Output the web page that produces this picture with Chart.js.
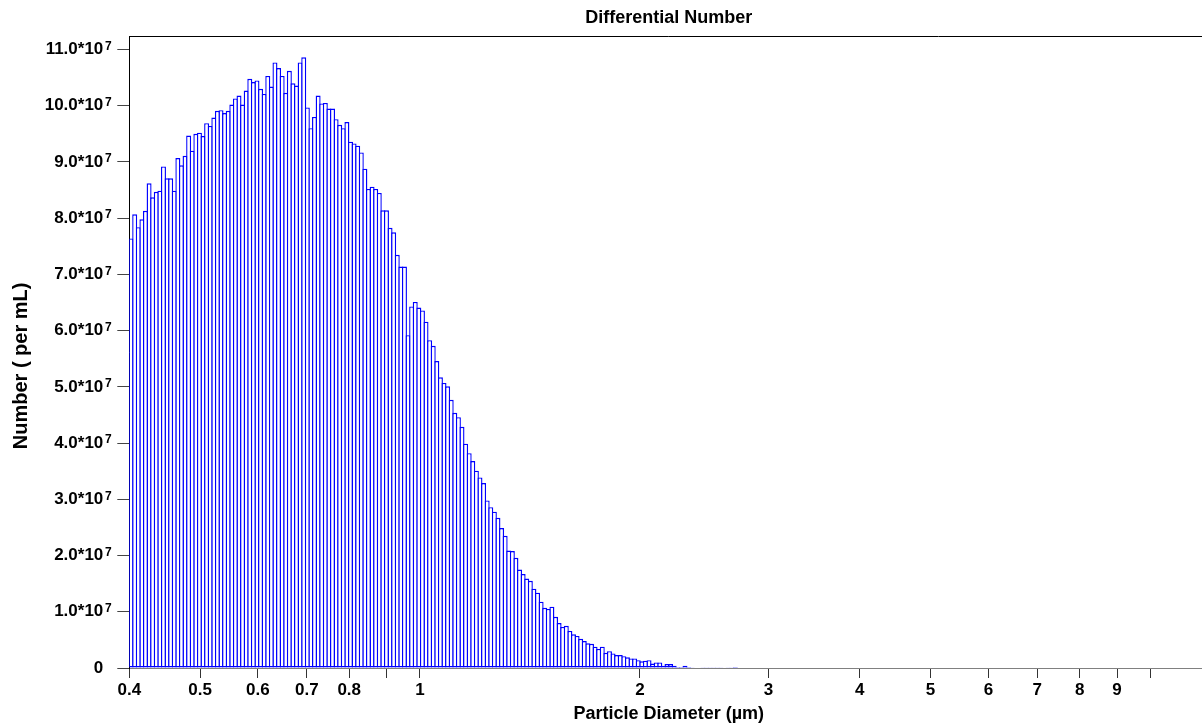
<!DOCTYPE html>
<html>
<head>
<meta charset="utf-8">
<script src="https://cdn.jsdelivr.net/npm/chart.js@4.4.0/dist/chart.umd.min.js"></script>
<style>
html, body { margin: 0; padding: 0; background: #fff; overflow: hidden; }
#wrap { width: 1210px; height: 724px; }
</style>
</head>
<body>
<div id="wrap"><canvas id="diff"></canvas></div>
<script>
// channel layout: 300 log spaced bins from 0.4 to 12 um
const dMin = 0.4, dMax = 12, nBins = 300

// differential number per channel, in 10^7 per mL, first channel at 0.4 um
const counts = [
  7.64, 8.07, 7.84, 7.98, 8.13, 8.62, 8.37, 8.47, 8.49, 8.92, 8.71, 8.71, 8.49, 9.07, 8.94, 9.11,
  9.47, 9.20, 9.50, 9.52, 9.46, 9.69, 9.64, 9.79, 9.91, 9.92, 9.87, 9.91, 10.02, 10.13, 10.18, 10.02,
  10.27, 10.48, 10.42, 10.45, 10.30, 10.21, 10.53, 10.34, 10.77, 10.67, 10.53, 10.23, 10.62, 10.40, 10.36, 10.77,
  10.86, 9.97, 9.60, 9.80, 10.18,
  10.04, 10.05, 9.95, 9.95, 9.76, 9.66, 9.60, 9.71, 9.36, 9.33, 9.29, 9.17, 8.88, 8.52, 8.56, 8.52,
  8.45, 8.14, 8.14, 7.83, 7.75, 7.35, 7.14, 7.14,
  5.92, 6.43, 6.51, 6.41, 6.36, 6.16, 5.83, 5.73, 5.46, 5.17, 5.07, 5.01, 4.77, 4.54, 4.46, 4.29,
  3.99, 3.82, 3.68, 3.51, 3.39, 3.29, 2.98, 2.86, 2.78, 2.67,
  2.49, 2.35, 2.09, 2.08, 1.96, 1.75, 1.67, 1.59, 1.55, 1.41, 1.34, 1.18, 1.07, 1.05, 1.09, 0.91,
  0.80, 0.73, 0.75, 0.66, 0.60, 0.57, 0.52, 0.48, 0.44, 0.43, 0.38, 0.34, 0.38, 0.27, 0.30, 0.26,
  0.23, 0.23, 0.21, 0.19, 0.17, 0.17, 0.14, 0.12, 0.13, 0.14, 0.08, 0.10, 0.10, 0.04, 0.07, 0.07,
  0.04, 0.02, 0.02, 0.04, 0.02,
  0.012, 0.010, 0.010, 0.006, 0.005, 0.005, 0.004, 0.004, 0.004, 0, 0.003, 0.003, 0.002
]

const yTicks = [0, 1, 2, 3, 4, 5, 6, 7, 8, 9, 10, 11]
const yExp = '7'
const xTicks = [0.4, 0.5, 0.6, 0.7, 0.8, 0.9, 1, 2, 3, 4, 5, 6, 7, 8, 9, 10]
const xLabels = ['0.4', '0.5', '0.6', '0.7', '0.8', '', '1', '2', '3', '4', '5', '6', '7', '8', '9', '']

// centre diameter of each channel (geometric mean of its edges)
const centres = counts.map((v, i) => dMin * Math.pow(dMax / dMin, (i + 0.5) / nBins))

const fam = "'Liberation Sans', Arial, sans-serif"
const fnt = {family: fam, size: 18, weight: 'bold', lineHeight: 1}
const tickFnt = {family: fam, size: 17, weight: 'bold', lineHeight: 1}
const yTickLen = 12, yTickPad = 14
const edge = 1.4, binPx = 1078.8 / nBins // outline width, channel width on screen

const frame = {
  id: 'frame',
  afterDraw(chart) {
    const {ctx, chartArea: {left, top, right, bottom}} = chart
    ctx.save()
    ctx.strokeStyle = '#000'
    ctx.lineWidth = 1
    ctx.beginPath()
    ctx.moveTo(left, top + 0.5)
    ctx.lineTo(right, top + 0.5)
    ctx.lineTo(right, bottom)
    ctx.stroke()
    ctx.restore()
  }
}

// the raised power of ten after each y label
const exponent = {
  id: 'exponent',
  afterDraw(chart) {
    const s = chart.scales.y, ctx = chart.ctx
    ctx.save()
    ctx.font = 'bold 12px ' + fam
    ctx.fillStyle = '#000'
    ctx.textAlign = 'left'
    ctx.textBaseline = 'alphabetic'
    yTicks.forEach(v => {
      if (v === 0) return
      ctx.fillText(yExp, s.right - yTickLen - yTickPad + 1.7, s.getPixelForValue(v) + 0.3)
    })
    ctx.restore()
  }
}

new Chart(document.getElementById('diff'), {
  type: 'bar',
  data: {
    datasets: [{
      data: counts.map((v, i) => ({x: centres[i], y: v})),
      backgroundColor: '#ffffff',
      borderColor: '#0000ff',
      borderWidth: edge,
      borderSkipped: false,
      inflateAmount: 0,
      categoryPercentage: 1,
      // neighbours overlap by one outline so they share a single edge line
      barPercentage: (binPx + edge) / binPx
    }]
  },
  options: {
    responsive: true,
    maintainAspectRatio: false,
    animation: false,
    devicePixelRatio: 1,
    layout: {padding: {right: 1.7}},
    plugins: {
      legend: {display: false},
      tooltip: {enabled: false},
      title: {
        display: true,
        text: 'Differential Number',
        fullSize: false,
        color: '#000',
        font: fnt,
        padding: {top: 9, bottom: 9}
      }
    },
    scales: {
      x: {
        type: 'logarithmic',
        min: dMin,
        max: dMax,
        offset: false,
        afterBuildTicks: s => { s.ticks = xTicks.map(v => ({value: v})) },
        afterFit: s => { s.height = 56 },
        grid: {drawOnChartArea: false, offset: false, tickLength: 10, tickColor: '#333'},
        border: {color: '#808080', width: 1},
        ticks: {
          autoSkip: false, maxRotation: 0, padding: 4, color: '#000', font: tickFnt,
          callback: (v, i) => xLabels[i]
        },
        title: {display: true, text: 'Particle Diameter (µm)', color: '#000', font: fnt, padding: {top: 0, bottom: 1}}
      },
      y: {
        min: 0,
        max: 11.24,
        afterBuildTicks: s => { s.ticks = yTicks.map(v => ({value: v})) },
        afterFit: s => { s.width = 129.3 },
        grid: {drawOnChartArea: false, tickLength: yTickLen, tickColor: '#444'},
        border: {color: '#000', width: 1},
        ticks: {
          autoSkip: false, padding: yTickPad, color: '#000', font: tickFnt,
          callback: v => v === 0 ? '0' : v.toFixed(1) + '*10'
        },
        title: {
          display: true, text: 'Number ( per mL)     ', color: '#000',
          font: {family: fam, size: 20, weight: 'bold', lineHeight: 1},
          padding: {top: 11, bottom: 0}
        }
      }
    }
  },
  plugins: [frame, exponent]
})
</script>
</body>
</html>
